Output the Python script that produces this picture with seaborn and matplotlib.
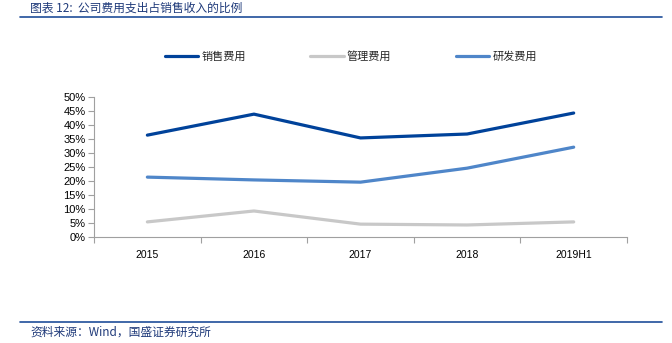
import matplotlib
matplotlib.use("Agg")
import matplotlib.pyplot as plt
import seaborn as sns
import pandas as pd
from matplotlib.lines import Line2D
from matplotlib.ticker import PercentFormatter, FixedLocator

categories = ["2015", "2016", "2017", "2018", "2019H1"]
sales = [36.4, 43.9, 35.4, 36.8, 44.3]
admin = [5.4, 9.3, 4.6, 4.3, 5.4]
rnd = [21.4, 20.4, 19.6, 24.6, 32.1]
series_names = ["销售费用", "管理费用", "研发费用"]
colors = ["#00429A", "#C8C8C8", "#4F86C9"]

sns.set_theme(style="white")
plt.rcParams["font.family"] = ["Liberation Sans", "Noto Sans CJK SC", "DejaVu Sans"]

rows = []
for name, vals in zip(series_names, [sales, admin, rnd]):
    for c, v in zip(categories, vals):
        rows.append({"year": c, "value": v, "series": name})
df = pd.DataFrame(rows)

fig = plt.figure(figsize=(6.72, 3.43), dpi=100)
ax = fig.add_axes([0.140, 0.309, 0.793, 0.408])
sns.lineplot(data=df, x="year", y="value", hue="series", palette=colors,
             hue_order=series_names, linewidth=2.3, ax=ax, legend=False, sort=False)

ax.set_ylim(0, 50)
ax.set_xlim(-0.5, len(categories) - 0.5)
ax.yaxis.set_major_locator(FixedLocator(range(0, 51, 5)))
ax.yaxis.set_major_formatter(PercentFormatter(decimals=0))
ax.set_xticks(range(len(categories)))
ax.set_xticklabels(categories)
ax.xaxis.set_minor_locator(FixedLocator([i - 0.5 for i in range(len(categories) + 1)]))
ax.tick_params(axis="x", which="major", length=0, pad=9, labelsize=7.5, labelcolor="black")
ax.tick_params(axis="x", which="minor", length=4, width=0.8, color="#A0A0A0", direction="out", bottom=True)
ax.tick_params(axis="y", which="major", length=4, width=0.8, color="#A0A0A0", direction="out", left=True,
               labelsize=8, pad=2, labelcolor="black")
for s in ["top", "right"]:
    ax.spines[s].set_visible(False)
for s in ["left", "bottom"]:
    ax.spines[s].set_color("#A0A0A0")
    ax.spines[s].set_linewidth(0.8)
ax.set_xlabel("")
ax.set_ylabel("")
ax.grid(False)

handles = [Line2D([0], [0], color=c, lw=2.3) for c in colors]
leg = fig.legend(handles, series_names, loc="center", bbox_to_anchor=(0.522, 0.835), ncol=3,
                 frameon=False, fontsize=8, handlelength=3.0, columnspacing=5.8, handletextpad=0.3)
for t in leg.get_texts():
    t.set_family(["Noto Sans CJK SC", "DejaVu Sans"])

fig.text(0.045, 0.995, "图表 12:  公司费用支出占销售收入的比例", fontsize=8.5, color="#1F3A7A",
         ha="left", va="top", family=["Noto Sans CJK SC", "DejaVu Sans"], style="italic")
fig.add_artist(Line2D([0.03, 0.985], [0.950, 0.950], color="#1F4E9A", lw=1.2, transform=fig.transFigure))
fig.add_artist(Line2D([0.03, 0.985], [0.062, 0.062], color="#1F4E9A", lw=1.2, transform=fig.transFigure))
fig.text(0.045, 0.050, "资料来源：Wind，国盛证券研究所", fontsize=8.5, color="#1F3A7A",
         ha="left", va="top", family=["Noto Sans CJK SC", "DejaVu Sans"], style="italic")

fig.savefig("out.png", dpi=100, facecolor="white")
